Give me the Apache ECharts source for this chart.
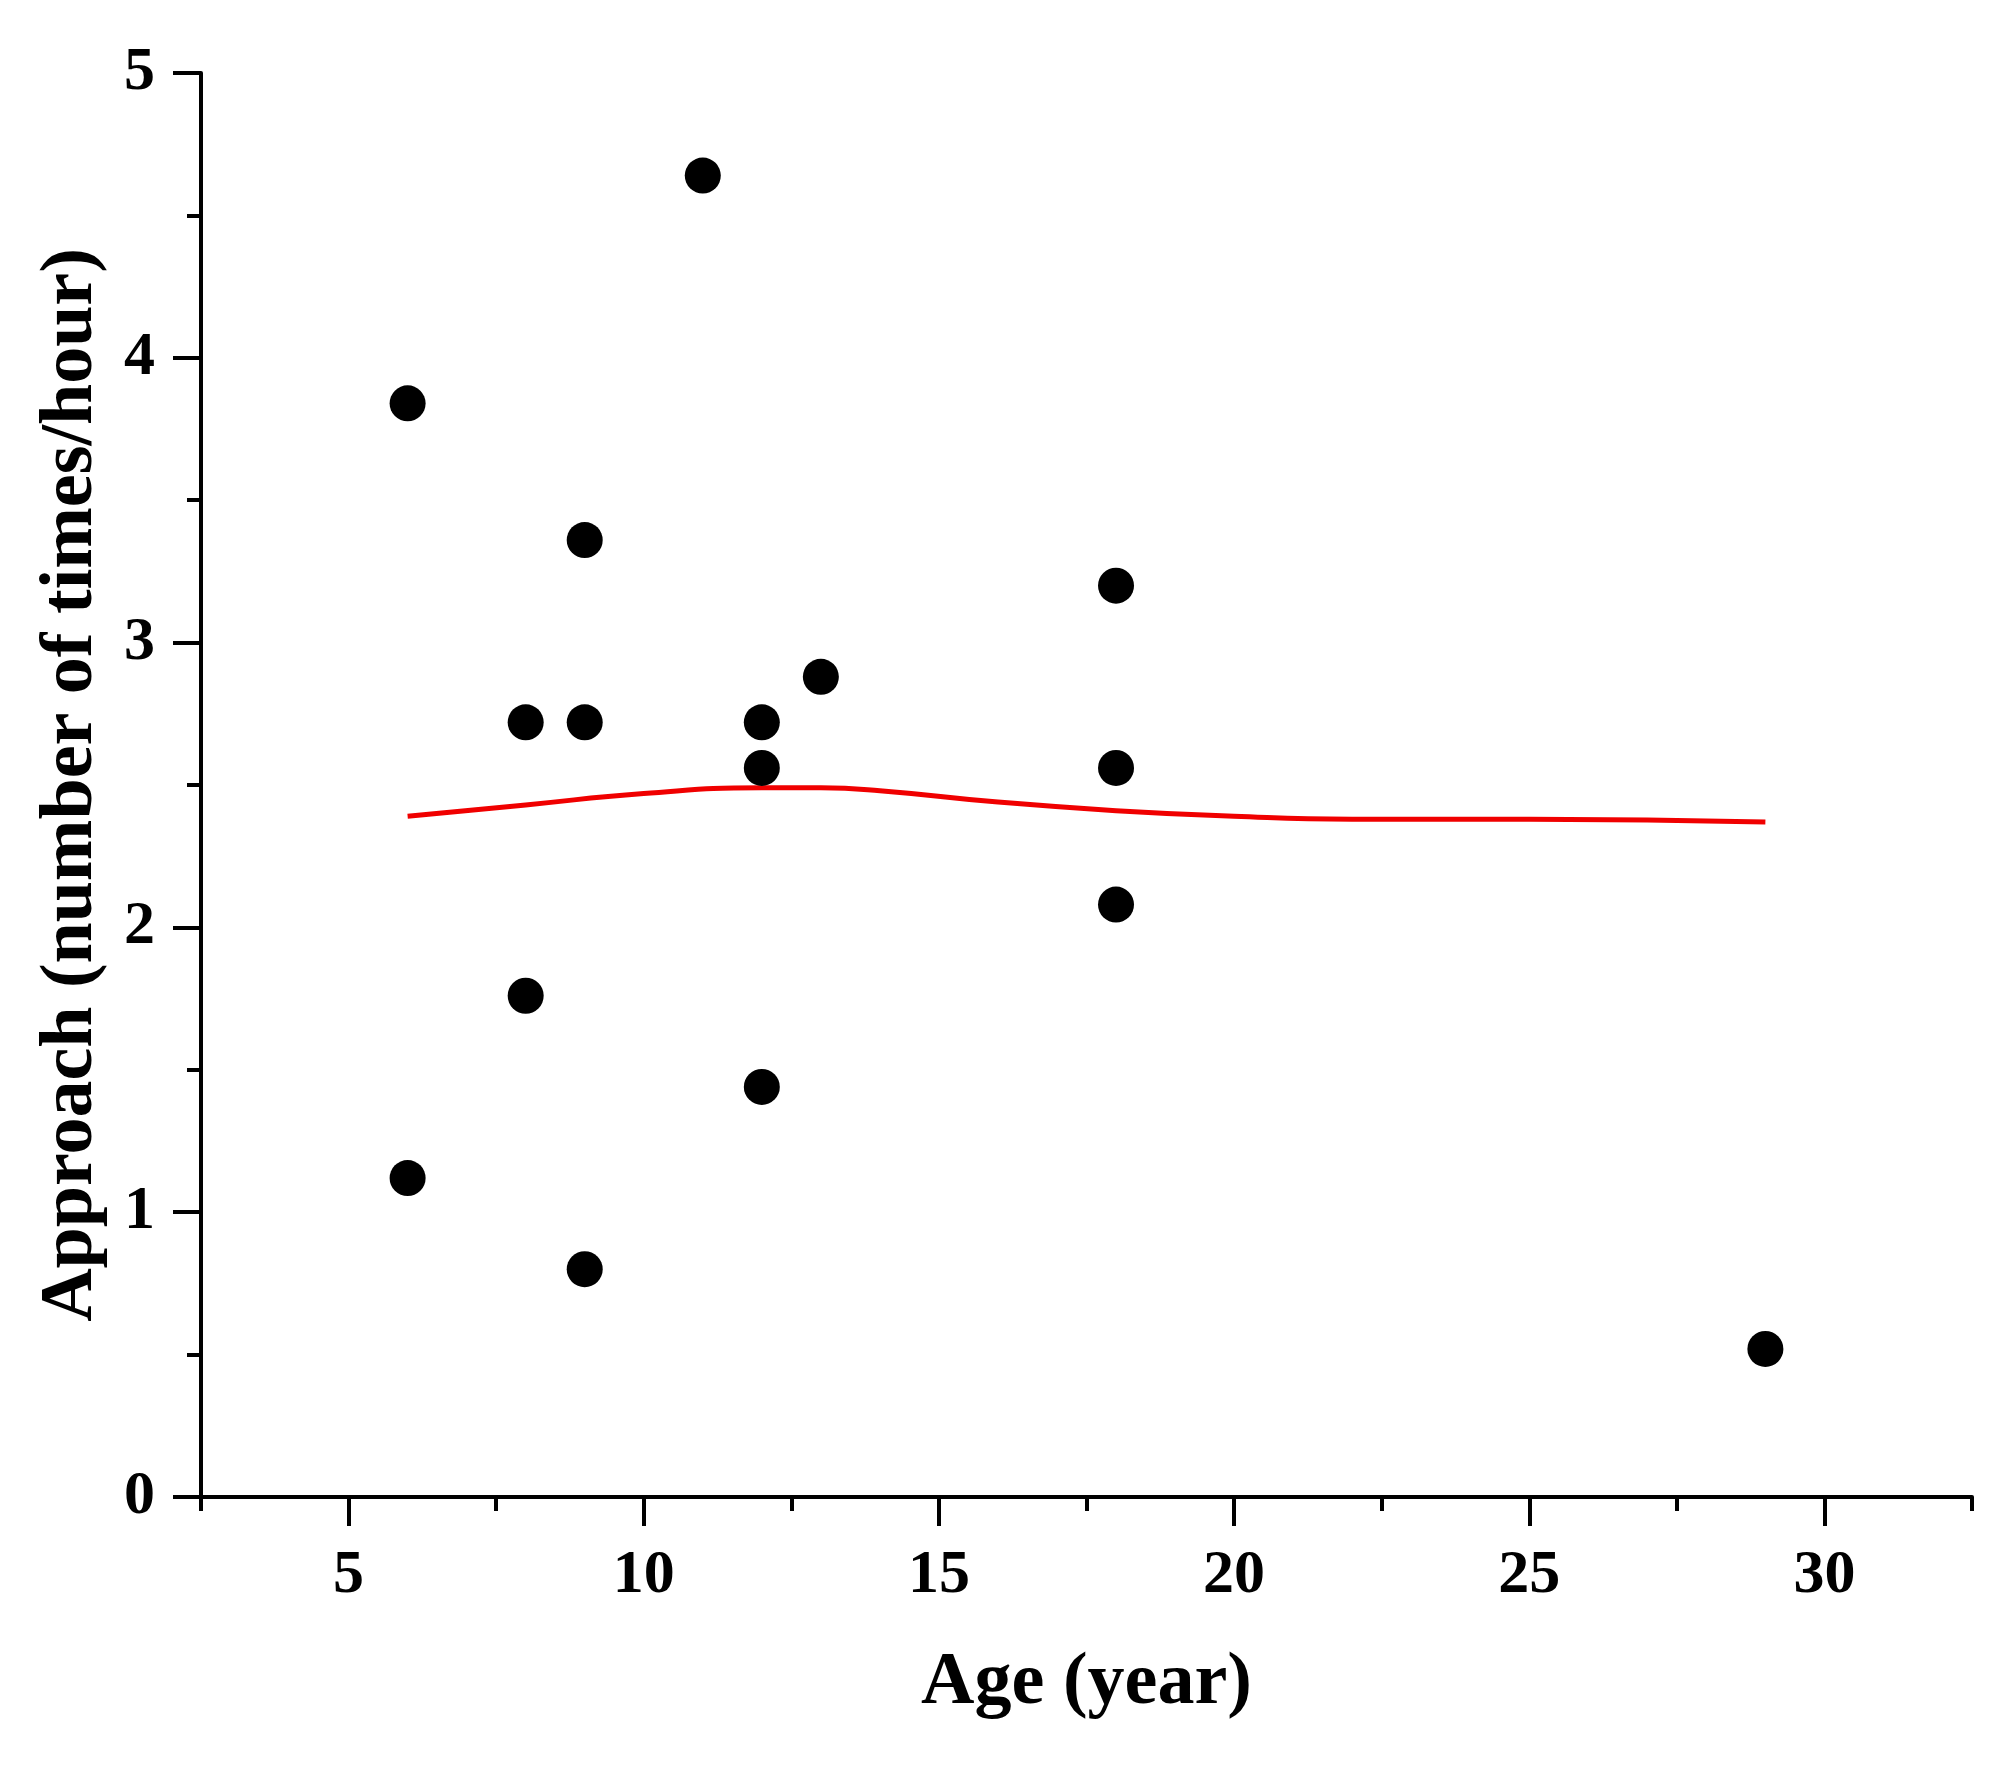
<!DOCTYPE html>
<html>
<head>
<meta charset="utf-8">
<script src="https://cdn.jsdelivr.net/npm/echarts@6/dist/echarts.min.js"></script>
<style>html,body{margin:0;padding:0;background:#fff;}#c{width:2010px;height:1768px;}</style>
</head>
<body>
<div id="c"></div>
<script>
// Observed data: age (year) vs approach (number of times/hour)
const ages = [6, 6, 8, 8, 9, 9, 9, 11, 12, 12, 12, 13, 18, 18, 18, 29];
const approach = [3.84, 1.12, 2.72, 1.76, 3.36, 2.72, 0.80, 4.64, 2.72, 2.56, 1.44, 2.88, 3.20, 2.56, 2.08, 0.52];
// Fitted curve
const curveX = [6, 8, 10, 12, 13, 14, 16, 18, 20, 22, 25, 29];
const curveY = [2.39, 2.43, 2.47, 2.49, 2.49, 2.48, 2.44, 2.41, 2.39, 2.38, 2.38, 2.37];
// Tick labels
const xMajorTicks = [5, 10, 15, 20, 25, 30];
const xMinorTicks = [2.5, 7.5, 12.5, 17.5, 22.5, 27.5, 32.5];

const FONT = 'Liberation Serif';
const chart = echarts.init(document.getElementById('c'), null, {renderer: 'canvas'});
const axisLine = {show: true, onZero: false, lineStyle: {color: '#000', width: 4}};
const tickStyle = {color: '#000', width: 4};
const option = {
  backgroundColor: '#fff',
  animation: false,
  grid: {left: 201, right: 38, top: 73, bottom: 271, containLabel: false},
  xAxis: [
    {
      type: 'value', position: 'bottom', min: 2.5, max: 32.5,
      axisLine: axisLine,
      axisTick: {show: true, customValues: xMajorTicks, length: 29, lineStyle: tickStyle},
      axisLabel: {show: true, customValues: xMajorTicks, margin: 48, color: '#000', fontFamily: FONT, fontWeight: 'bold', fontSize: 62},
      splitLine: {show: false},
      name: 'Age (year)', nameLocation: 'middle', nameGap: 150,
      nameTextStyle: {color: '#000', fontFamily: FONT, fontWeight: 'bold', fontSize: 74}
    },
    {
      type: 'value', position: 'bottom', min: 2.5, max: 32.5,
      axisLine: {show: false},
      axisTick: {show: true, customValues: xMinorTicks, length: 14, lineStyle: tickStyle},
      axisLabel: {show: false},
      splitLine: {show: false}
    }
  ],
  yAxis: {
    type: 'value', min: 0, max: 5, interval: 1,
    axisLine: axisLine,
    axisTick: {show: true, length: 28, lineStyle: tickStyle},
    minorTick: {show: true, splitNumber: 2, length: 14, lineStyle: tickStyle},
    axisLabel: {margin: 46, color: '#000', fontFamily: FONT, fontWeight: 'bold', fontSize: 62},
    splitLine: {show: false},
    name: 'Approach (number of times/hour)', nameLocation: 'middle', nameGap: 92,
    nameTextStyle: {color: '#000', fontFamily: FONT, fontWeight: 'bold', fontSize: 74}
  },
  series: [
    {
      type: 'line', xAxisIndex: 0,
      data: curveX.map((x, i) => [x, curveY[i]]),
      smooth: true, showSymbol: false, symbol: 'none',
      lineStyle: {color: '#f00000', width: 5}, z: 2
    },
    {
      type: 'scatter', xAxisIndex: 0,
      data: ages.map((x, i) => [x, approach[i]]),
      symbol: 'circle', symbolSize: 36,
      itemStyle: {color: '#000', opacity: 1}, z: 3
    }
  ]
};
chart.setOption(option);
</script>
</body>
</html>
